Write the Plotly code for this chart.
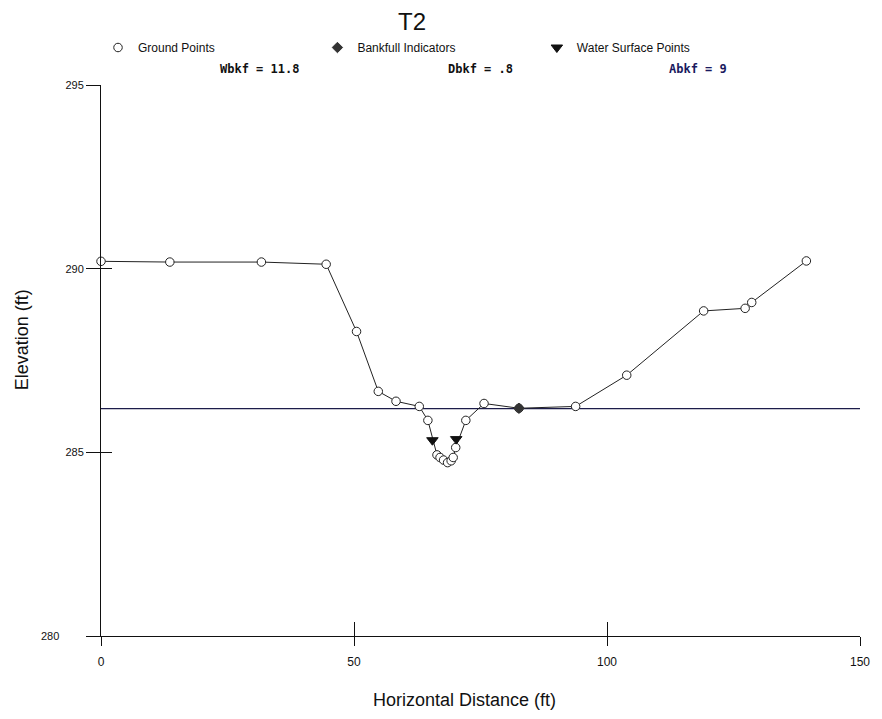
import plotly.graph_objects as go

# ---- data ----
ground_x = [0, 13.6, 31.7, 44.5, 50.5, 54.8, 58.3, 62.9, 64.6, 66.4, 67.0, 67.7,
            68.5, 69.2, 69.6, 70.1, 72.1, 75.7, 82.6, 93.8, 103.9, 119.1, 127.3, 128.6, 139.4]
ground_y = [290.2, 290.18, 290.18, 290.12, 288.29, 286.66, 286.39, 286.25, 285.87, 284.93, 284.86, 284.79,
            284.72, 284.77, 284.86, 285.13, 285.87, 286.33, 286.2, 286.25, 287.10, 288.85, 288.92, 289.08, 290.21]
bankfull_x = [82.6]
bankfull_y = [286.2]
ws_x = [65.5, 70.2]
ws_y = [285.33, 285.36]
bankfull_elev = 286.19

title_text = "T2"
stats = ["Wbkf = 11.8", "Dbkf = .8", "Abkf = 9"]
x_ticks = [0, 50, 100, 150]
y_ticks = [280, 285, 290, 295]
y_ticktext = ["280\u00a0\u00a0\u00a0\u00a0\u00a0\u00a0\u00a0\u00a0", "285", "290", "295"]

FONT = "Liberation Sans, Arial, sans-serif"
MONO = "DejaVu Sans Mono, monospace"

W, H = 882, 719
L, R, T, B = 101, 20, 85, 83
PW, PH = W - L - R, H - T - B


def px2paper_x(px):
    return (px - L) / PW


def px2paper_y(py):
    return (H - B - py) / PH


fig = go.Figure()

fig.add_trace(go.Scatter(x=ground_x, y=ground_y, mode="lines",
                         line=dict(color="#222222", width=1), showlegend=False,
                         hoverinfo="skip", cliponaxis=False))
fig.add_trace(go.Scatter(x=ground_x, y=ground_y, mode="markers", name="Ground Points",
                         legend="legend",
                         marker=dict(symbol="circle", size=8.5, color="white",
                                     line=dict(color="#222222", width=1)),
                         cliponaxis=False))
fig.add_trace(go.Scatter(x=bankfull_x, y=bankfull_y, mode="markers", name="Bankfull Indicators",
                         legend="legend2",
                         marker=dict(symbol="diamond", size=8, color="#333333",
                                     line=dict(color="#333333", width=1))))
fig.add_trace(go.Scatter(x=ws_x, y=ws_y, mode="markers", name="Water Surface Points",
                         legend="legend3",
                         marker=dict(symbol="triangle-down", size=10, color="#111111",
                                     line=dict(color="#111111", width=1))))

# bankfull water line
fig.add_shape(type="line", xref="paper", x0=0, x1=1, yref="y", y0=bankfull_elev, y1=bankfull_elev,
              line=dict(color="#1c1c4a", width=1.2), layer="below")

# title
fig.add_annotation(text=title_text, xref="paper", yref="paper", x=px2paper_x(413), y=px2paper_y(22),
                   showarrow=False, font=dict(family=FONT, size=24, color="#111111"),
                   xanchor="center", yanchor="middle")
# stats
for s, px, col in zip(stats, [260, 481, 700], ["#111111", "#111111", "#1a1a5e"]):
    fig.add_annotation(text="<b>" + s + "</b>", xref="paper", yref="paper",
                       x=px2paper_x(px), y=px2paper_y(69), showarrow=False,
                       font=dict(family=MONO, size=12, color=col), xanchor="center", yanchor="middle")
# axis titles
fig.add_annotation(text="Horizontal Distance (ft)", xref="paper", yref="paper",
                   x=px2paper_x(465), y=px2paper_y(700), showarrow=False,
                   font=dict(family=FONT, size=18, color="#111111"), xanchor="center", yanchor="middle")
fig.add_annotation(text="Elevation (ft)", xref="paper", yref="paper",
                   x=px2paper_x(22), y=px2paper_y(340), showarrow=False, textangle=-90,
                   font=dict(family=FONT, size=18, color="#111111"), xanchor="center", yanchor="middle")

axis_common = dict(showgrid=False, zeroline=False, tickcolor="#111111", tickwidth=1)


def leg(px):
    return dict(orientation="h", xref="paper", yref="paper",
                x=px2paper_x(px), y=px2paper_y(33), xanchor="left", yanchor="top",
                font=dict(family=FONT, size=12, color="#111111"),
                bgcolor="rgba(0,0,0,0)", itemclick=False, itemdoubleclick=False)


fig.update_layout(
    width=W, height=H,
    margin=dict(l=L, r=R, t=T, b=B),
    paper_bgcolor="white", plot_bgcolor="white",
    font=dict(family=FONT, size=12, color="#111111"),
    showlegend=True,
    legend=leg(98), legend2=leg(318), legend3=leg(538),
    xaxis=dict(range=[0, 150], tickvals=x_ticks, ticks="outside", ticklen=9,
               showline=True, linecolor="#111111", linewidth=1, ticklabelstandoff=6,
               tickfont=dict(family=FONT, size=12), **axis_common),
    yaxis=dict(range=[280, 295], tickvals=y_ticks, ticktext=y_ticktext, ticks="outside", ticklen=14,
               showline=True, linecolor="#111111", linewidth=1,
               tickfont=dict(family=FONT, size=11), **axis_common),
    xaxis2=dict(range=[0, 150], tickvals=x_ticks, ticks="inside", ticklen=14, overlaying="x",
                anchor="y", side="bottom", showticklabels=False, showline=False, **axis_common),
    yaxis2=dict(range=[280, 295], tickvals=y_ticks, ticks="inside", ticklen=11, overlaying="y",
                anchor="x", side="left", showticklabels=False, showline=False, **axis_common),
)

# invisible helper trace so the overlay axes render
fig.add_trace(go.Scatter(x=[x_ticks[0]], y=[y_ticks[0]], xaxis="x2", yaxis="y2", mode="markers",
                         marker=dict(opacity=0), showlegend=False, hoverinfo="skip"))

fig.write_html("out.html")
